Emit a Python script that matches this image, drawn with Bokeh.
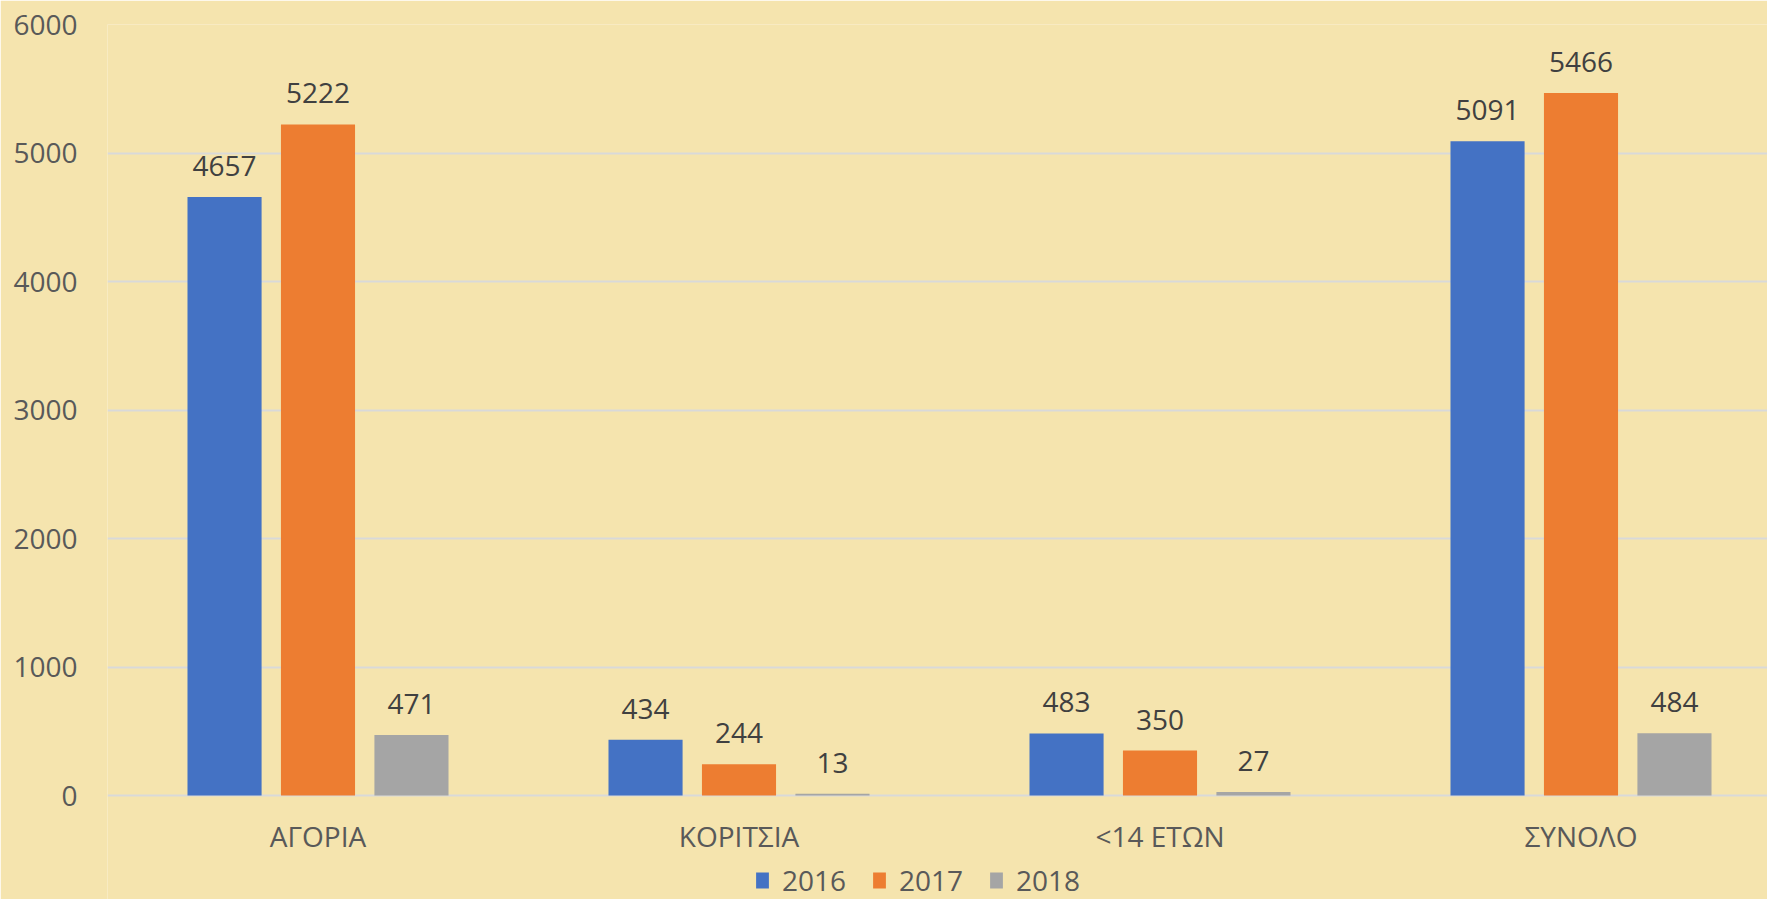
from bokeh.plotting import figure
from bokeh.models import ColumnDataSource, Legend, LegendItem, FixedTicker, Range1d
from bokeh.transform import dodge
from bokeh.core.properties import value
from bokeh.embed import file_html
from bokeh.resources import INLINE

categories = ["ΑΓΟΡΙΑ", "ΚΟΡΙΤΣΙΑ", "<14 ΕΤΩΝ", "ΣΥΝΟΛΟ"]
years = ["2016", "2017", "2018"]
v2016 = [4657, 434, 483, 5091]
v2017 = [5222, 244, 350, 5466]
v2018 = [471, 13, 27, 484]
y_ticks = [0, 1000, 2000, 3000, 4000, 5000, 6000]

colors = ["#4472C4", "#ED7D31", "#A5A5A5"]
offsets = [-0.222, 0.0, 0.222]

FONT = "Open Sans"
FS = "28px"
BG = "#F5E4AE"

W, H = 1767, 899
TOP, LEFT = 24, 107
ZERO_Y = 795          # pixel row of the value 0
CAT_PX = 421          # pixel width of one category slot
Y_MAX = 6000
y_start = -Y_MAX * (H - ZERO_Y) / (ZERO_Y - TOP)

xpos = list(range(1, len(categories) + 1))

src = ColumnDataSource(dict(
    x=xpos, cat=categories,
    v2016=v2016, v2017=v2017, v2018=v2018,
    t2016=[str(v) for v in v2016],
    t2017=[str(v) for v in v2017],
    t2018=[str(v) for v in v2018],
))

p = figure(x_range=Range1d(0.5, 0.5 + (W - LEFT) / CAT_PX), y_range=Range1d(y_start, Y_MAX),
           width=W, height=H, output_backend="svg", toolbar_location=None,
           min_border_left=LEFT, min_border_top=TOP, min_border_right=0, min_border_bottom=0)
p.background_fill_color = BG
p.border_fill_color = BG
p.outline_line_color = None

items = []
for yr, col, off in zip(years, colors, offsets):
    r = p.vbar(x=dodge("x", off), top="v" + yr, bottom=0, width=0.176,
               source=src, fill_color=col, line_color=None)
    p.text(x=dodge("x", off), y="v" + yr, text="t" + yr, source=src,
           text_align="center", text_baseline="bottom", y_offset=-21,
           text_font=value(FONT), text_font_size=FS, text_color="#404040")
    items.append(LegendItem(label=yr, renderers=[r]))

p.xaxis.ticker = FixedTicker(ticks=xpos)
p.xaxis.major_label_overrides = {x: c for x, c in zip(xpos, categories)}
p.yaxis.ticker = FixedTicker(ticks=y_ticks)
p.xaxis.fixed_location = 0
for ax in (p.xaxis, p.yaxis):
    ax.axis_line_color = None
    ax.major_tick_line_color = None
    ax.minor_tick_line_color = None
    ax.major_label_text_font = FONT
    ax.major_label_text_font_size = FS
    ax.major_label_text_color = "#595959"
p.yaxis.major_label_standoff = 24
p.xaxis.major_label_standoff = 15

p.xgrid.grid_line_color = None
p.ygrid.grid_line_color = "#D9D9D9"
p.ygrid.grid_line_width = 2

legend = Legend(items=items, orientation="horizontal", location=(647, 0),
                background_fill_alpha=0, border_line_color=None,
                label_text_font=FONT, label_text_font_size=FS,
                label_text_color="#595959", glyph_width=16, glyph_height=20,
                spacing=25, label_standoff=12, margin=0, padding=0)
p.add_layout(legend, "center")

open("out.html", "w").write(file_html(p, INLINE))
